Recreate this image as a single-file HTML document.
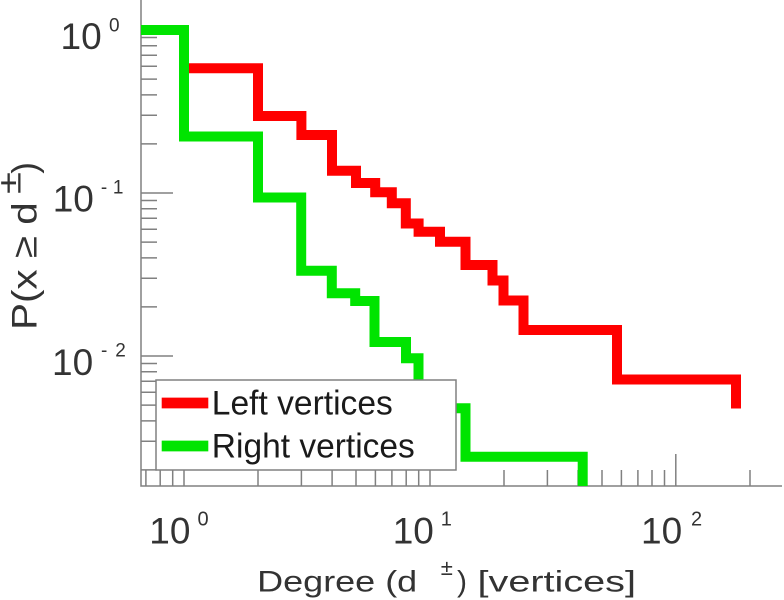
<!DOCTYPE html>
<html>
<head>
<meta charset="utf-8">
<style>
  html, body { margin: 0; padding: 0; background: #ffffff; }
  body { width: 784px; height: 600px; overflow: hidden; }
  svg { display: block; }
  text { font-family: "Liberation Sans", Arial, sans-serif; fill: #333333; }
</style>
</head>
<body>
<svg width="784" height="600" viewBox="0 0 784 600" xmlns="http://www.w3.org/2000/svg">
  <defs>
    <clipPath id="plotclip">
      <rect x="141" y="0" width="641" height="486"/>
    </clipPath>
  </defs>
  <rect x="0" y="0" width="784" height="600" fill="#ffffff"/>

  <!-- Axes -->
  <g stroke="#808080" stroke-width="1.5" fill="none">
    <path d="M141,0 V486 H782"/>
    <!-- y ticks -->
    <path d="M141,30 H173
             M141,37.5 H157 M141,45.8 H157 M141,55.2 H157 M141,66.2 H157 M141,79.1 H157 M141,94.9 H157 M141,115.2 H157 M141,143.9 H157
             M141,193 H173
             M141,200.5 H157 M141,208.8 H157 M141,218.2 H157 M141,229.2 H157 M141,242.1 H157 M141,257.9 H157 M141,278.2 H157 M141,306.9 H157
             M141,356 H173
             M141,363.5 H157 M141,371.8 H157 M141,381.2 H157 M141,392.2 H157 M141,405.1 H157 M141,420.9 H157 M141,441.2 H157 M141,469.9 H157"/>
    <!-- x ticks -->
    <path d="M145.9,486 V470 M160.2,486 V470 M172.7,486 V470
             M184,486 V454
             M258,486 V470 M301.4,486 V470 M332.1,486 V470 M356,486 V470 M375.4,486 V470 M391.9,486 V470 M406.2,486 V470 M418.7,486 V470
             M430,486 V454
             M504,486 V470 M547.4,486 V470 M578.1,486 V470 M602,486 V470 M621.4,486 V470 M637.9,486 V470 M652,486 V470 M664.5,486 V470
             M675.8,486 V454
             M750,486 V470"/>
  </g>

  <!-- Data series -->
  <g clip-path="url(#plotclip)" fill="none" stroke-width="10" stroke-linejoin="miter" stroke-linecap="butt">
    <path stroke="#ff0000" d="M141,30 H184 V68.3 H258 V116 H301.4 V135 H332 V170.7 H356 V183 H375.2 V192.3 H391.8 V203.3 H405.8 V223.5 H418.6 V231.7 H440 V241.7 H465.5 V265 H492.5 V280.5 H503.5 V300.5 H523.5 V330 H617 V379.5 H736 V408.5"/>
    <path stroke="#00e400" d="M141,30 H184 V136.5 H258 V197.5 H301.2 V270.7 H331.8 V293.3 H355.2 V301 H374.5 V342 H406 V358.3 H418.5 V408.3 H465.5 V456.7 H582.7 V490"/>
  </g>

  <!-- Legend -->
  <rect x="156" y="380" width="300" height="90" fill="#ffffff" stroke="#808080" stroke-width="1.5"/>
  <path d="M161.7,403 H208.3" stroke="#ff0000" stroke-width="10.7" fill="none"/>
  <path d="M161.7,446 H208.3" stroke="#00e400" stroke-width="10.7" fill="none"/>
  <text x="211.8" y="414.3" font-size="34" textLength="181" lengthAdjust="spacingAndGlyphs" style="fill:#1a1a1a">Left vertices</text>
  <text x="211.8" y="457.3" font-size="34" textLength="203" lengthAdjust="spacingAndGlyphs" style="fill:#1a1a1a">Right vertices</text>

  <!-- Y tick labels -->
  <text x="60.5" y="49" font-size="37">10</text>
  <text x="109" y="31.5" font-size="19">0</text>

  <text x="52.7" y="211.7" font-size="37">10</text>
  <text x="100.9" y="193.5" font-size="19">-</text>
  <text x="112.9" y="193.5" font-size="19">1</text>

  <text x="52" y="375" font-size="37">10</text>
  <text x="101" y="356.7" font-size="19">-</text>
  <text x="115.3" y="356.7" font-size="19">2</text>

  <!-- X tick labels -->
  <text x="149.3" y="543.3" font-size="37">10</text>
  <text x="197.5" y="525.7" font-size="20">0</text>

  <text x="392.7" y="543.3" font-size="37">10</text>
  <text x="440.8" y="525.7" font-size="20">1</text>

  <text x="641" y="543.3" font-size="37">10</text>
  <text x="691" y="525.7" font-size="20">2</text>

  <!-- X axis label -->
  <text x="257.2" y="591.7" font-size="30" textLength="160" lengthAdjust="spacingAndGlyphs">Degree (d</text>
  <text x="440.7" y="575" font-size="22">±</text>
  <text x="457" y="591.7" font-size="30">)</text>
  <text x="477.5" y="591.7" font-size="30" textLength="158.5" lengthAdjust="spacingAndGlyphs">[vertices]</text>

  <!-- Y axis label -->
  <g transform="translate(36.7,330) rotate(-90)">
    <text x="0" y="0" font-size="35" textLength="127.7" lengthAdjust="spacingAndGlyphs">P(x ≥ d</text>
    <text x="136" y="-16" font-size="32" textLength="22" lengthAdjust="spacingAndGlyphs">±</text>
    <text x="156.3" y="0" font-size="35">)</text>
  </g>
</svg>
</body>
</html>
